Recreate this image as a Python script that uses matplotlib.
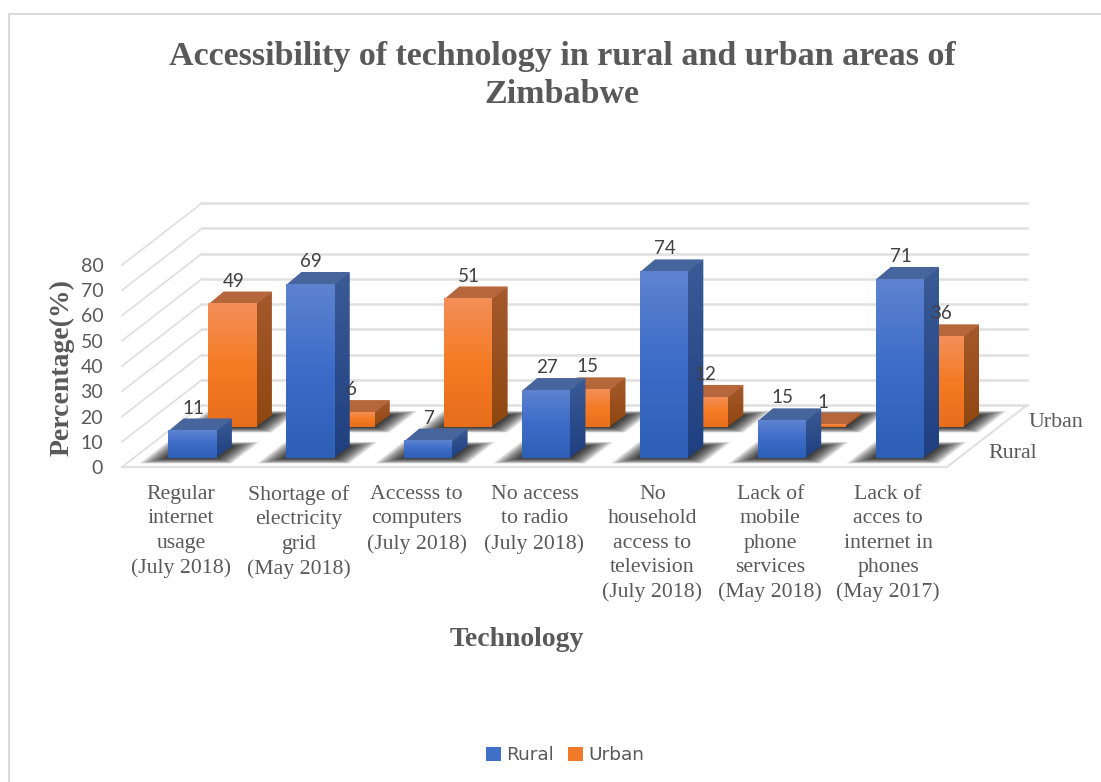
import numpy as np
import matplotlib
matplotlib.use("Agg")
import matplotlib.pyplot as plt
from matplotlib.colors import LinearSegmentedColormap
from matplotlib.patches import Patch, Polygon

categories = [
    "Regular\ninternet\nusage\n(July 2018)",
    "Shortage of\nelectricity\ngrid\n(May 2018)",
    "Accesss to\ncomputers\n(July 2018)",
    "No access\nto radio\n(July 2018)",
    "No\nhousehold\naccess to\ntelevision\n(July 2018)",
    "Lack of\nmobile\nphone\nservices\n(May 2018)",
    "Lack of\nacces to\ninternet in\nphones\n(May 2017)",
]
rural = [11, 69, 7, 27, 74, 15, 71]
urban = [49, 6, 51, 15, 12, 1, 36]
y_ticks = [0, 10, 20, 30, 40, 50, 60, 70, 80]

W, H = 1101, 782
SERIF = "Liberation Serif"
SANS = "Lato"
TEXT = "#595959"
GRID = "#E0E0E0"

# oblique 3D look: one unit of depth shifts x and y by this many data units
DX = 0.679
DV = 24.55
BAR_W = 0.41
BAR_D = 0.19

STYLES = {
    "rural": {
        "front": ["#5E83D0", "#3C6CC8", "#2E5FB6"],
        "side": ["#3A5B96", "#1F3F80"],
        "top": "#46659C",
        "depth": 0.145,
    },
    "urban": {
        "front": ["#F38F58", "#F57B24", "#E76E1B"],
        "side": ["#A5592C", "#8F4710"],
        "top": "#B5663A",
        "depth": 0.645,
    },
}


def proj(x, d, v):
    return x + d * DX, v + d * DV


def gradient_face(ax, pts, colors, z):
    """Polygon filled with a vertical gradient."""
    pts = np.array(pts)
    cmap = LinearSegmentedColormap.from_list("face", colors)
    grad = np.linspace(0, 1, 64).reshape(-1, 1)
    im = ax.imshow(grad, cmap=cmap, aspect="auto", interpolation="bilinear",
                   extent=(pts[:, 0].min(), pts[:, 0].max(), pts[:, 1].min(), pts[:, 1].max()),
                   origin="upper", zorder=z)
    clip = Polygon(pts, closed=True, transform=ax.transData)
    im.set_clip_path(clip)
    im.set_clip_box(fig.bbox)


def floor_shadow(ax, x0, x1, d0, d1, z):
    # stacked translucent footprints give the soft edge
    for t in np.linspace(0, 1, 24):
        k = 1 - t
        a = x0 - 0.19 * k
        b = x1 + 0.19 * k
        c = d0 - 0.09 * k
        e = d1 + 0.07 * k
        ax.add_patch(Polygon([proj(a, c, 0), proj(b, c, 0), proj(b, e, 0), proj(a, e, 0)],
                             closed=True, fc="black", ec="none", alpha=0.055,
                             zorder=z, clip_on=False))


def draw_bar(ax, i, val, style, z):
    x0 = i + (1 - BAR_W) / 2
    x1 = x0 + BAR_W
    d0 = style["depth"]
    d1 = d0 + BAR_D
    floor_shadow(ax, x0, x1, d0, d1, z)
    # side and top run slightly under the front face so no seam shows
    lap = 0.012
    side = [proj(x1 - lap, d0, 0), proj(x1, d1, 0), proj(x1, d1, val), proj(x1 - lap, d0, val)]
    gradient_face(ax, side, style["side"], z + 1)
    top = [proj(x0, d0, val - 0.4), proj(x1, d0, val - 0.4), proj(x1, d1, val), proj(x0, d1, val)]
    ax.add_patch(Polygon(top, closed=True, fc=style["top"], ec="none", zorder=z + 1, clip_on=False))
    front = [proj(x0, d0, 0), proj(x1, d0, 0), proj(x1, d0, val), proj(x0, d0, val)]
    gradient_face(ax, front, style["front"], z + 2)
    # value label above the front face
    lx, ly = proj((x0 + x1) / 2, d0, val)
    ax.annotate(str(val), (lx, ly), xytext=(0.7, 16), textcoords="offset points",
                ha="center", va="center", fontsize=13.5, family=SANS, color="#404040",
                zorder=50, annotation_clip=False)


fig = plt.figure(figsize=(W / 100, H / 100), dpi=100)
fig.patch.set_facecolor("white")

# chart border: top and left only
fig.add_artist(plt.Line2D([9 / W, 9 / W, 1], [0, 1 - 14 / H, 1 - 14 / H],
                          color="#D9D9D9", lw=1.5, transform=fig.transFigure))

ax = fig.add_axes([122 / W, 1 - 467 / H, 825 / W, 202 / H])
ax.patch.set_visible(False)
for s in ax.spines.values():
    s.set_visible(False)

# back wall and side wall gridlines
n = len(categories)
for v in y_ticks:
    xa, ya = proj(0, 1, v)
    xb, yb = proj(n, 1, v)
    ax.plot([xa, xb], [ya, yb], color=GRID, lw=1.8, zorder=1, clip_on=False)
    xc, yc = proj(0, 0, v)
    ax.plot([xc, xa], [yc, ya], color=GRID, lw=1.3, zorder=1, clip_on=False)

# floor outline
fx = [proj(0, 0, 0), proj(n, 0, 0), proj(n, 1, 0)]
ax.plot([p[0] for p in fx], [p[1] for p in fx], color=GRID, lw=1.5, zorder=1, clip_on=False)

for i, val in enumerate(urban):
    draw_bar(ax, i, val, STYLES["urban"], 5 + i * 4)
for i, val in enumerate(rural):
    draw_bar(ax, i, val, STYLES["rural"], 30 + i * 3)

ax.set_xlim(0, n)
ax.set_ylim(0, 80)
ax.set_yticks(y_ticks)
ax.set_yticklabels([str(v) for v in y_ticks], fontsize=14, family=SANS, color=TEXT)
ax.set_xticks(np.arange(n) + 0.5)
ax.set_xticklabels(categories, fontsize=15.7, family=SERIF, color=TEXT, linespacing=1.38)
ax.tick_params(axis="y", length=0, pad=13.5)
ax.tick_params(axis="x", length=0, pad=13)

# depth axis labels
for name, d in [("Rural", 0.25), ("Urban", 0.75)]:
    ax.annotate(name, proj(n, d, 0), xytext=(15.5, -1.5), textcoords="offset points",
                ha="left", va="center", fontsize=15.8, family=SERIF, color=TEXT,
                annotation_clip=False)

fig.text(562 / W, 1 - 75.5 / H, "Accessibility of technology in rural and urban areas of\nZimbabwe",
         ha="center", va="center", fontsize=24.5, family=SERIF, weight="bold", color=TEXT,
         linespacing=1.28)
fig.text(517 / W, 1 - 639 / H, "Technology", ha="center", va="center",
         fontsize=20, family=SERIF, weight="bold", color=TEXT)
fig.text(62 / W, 1 - 368 / H, "Percentage(%)", ha="center", va="center", rotation=90,
         fontsize=20, family=SERIF, weight="bold", color=TEXT)

fig.legend(handles=[Patch(fc="#3F6FC6", label="Rural"), Patch(fc="#F07A28", label="Urban")],
           loc="center", bbox_to_anchor=(565 / W, 1 - 755 / H), ncols=2, frameon=False,
           fontsize=13.3, labelcolor=TEXT, handlelength=0.8, handleheight=0.8,
           handletextpad=0.3, columnspacing=0.75)

fig.savefig("out.png", dpi=100)
